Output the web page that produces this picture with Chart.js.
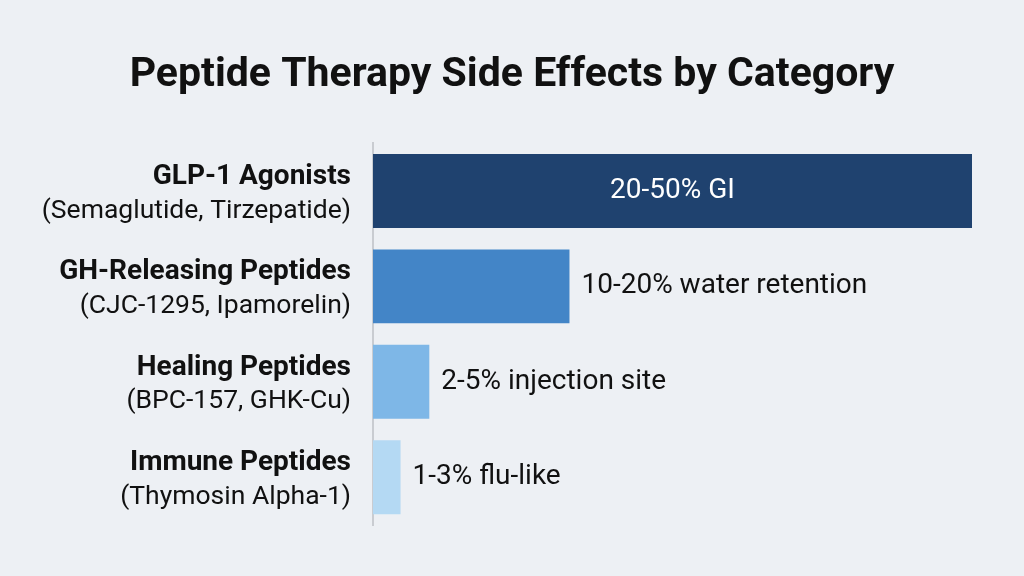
<!DOCTYPE html>
<html>
<head>
<meta charset="utf-8">
<script src="https://cdn.jsdelivr.net/npm/chart.js@4"></script>
<style>
  html, body { margin: 0; padding: 0; background: #edf0f4; }
  #wrap { width: 1024px; height: 576px; }
</style>
</head>
<body>
<div id="wrap"><canvas id="sideChart" width="1024" height="576"></canvas></div>
<script>
// Chart data
const categories = ["GLP-1 Agonists", "GH-Releasing Peptides", "Healing Peptides", "Immune Peptides"];
const examples = ["(Semaglutide, Tirzepatide)", "(CJC-1295, Ipamorelin)", "(BPC-157, GHK-Cu)", "(Thymosin Alpha-1)"];
const barValues = [50, 16.4, 4.7, 2.3];
const valueLabels = ["20-50% GI", "10-20% water retention", "2-5% injection site", "1-3% flu-like"];
const barColors = ["#1f426f", "#4385c7", "#7eb7e7", "#b4d9f3"];

const FONT = "Roboto, 'Open Sans', sans-serif";

// Two-line category labels (bold name + regular examples)
const categoryLabels = {
  id: "categoryLabels",
  afterDraw(chart) {
    const c = chart.ctx;
    const yScale = chart.scales.y;
    const right = chart.chartArea.left - 22;
    c.save();
    c.textAlign = "right";
    c.textBaseline = "middle";
    c.fillStyle = "#111";
    categories.forEach((name, i) => {
      const y = yScale.getPixelForValue(i);
      c.font = "bold 28px " + FONT;
      c.fillText(name, right, y - 14);
      c.font = "26.5px " + FONT;
      c.fillText(examples[i], right, y + 20);
    });
    c.restore();
  }
};

// Value labels, inside the first bar, after the bar end for the rest
const valueText = {
  id: "valueText",
  afterDatasetsDraw(chart) {
    const c = chart.ctx;
    const meta = chart.getDatasetMeta(0);
    c.save();
    c.font = "28px " + FONT;
    c.textBaseline = "middle";
    meta.data.forEach((bar, i) => {
      if (i === 0) {
        c.fillStyle = "#ffffff";
        c.textAlign = "center";
        c.fillText(valueLabels[i], (bar.base + bar.x) / 2, bar.y);
      } else {
        c.fillStyle = "#111";
        c.textAlign = "left";
        c.fillText(valueLabels[i], bar.x + 12, bar.y);
      }
    });
    c.restore();
  }
};

const ctx = document.getElementById("sideChart").getContext("2d");

let sideChart = new Chart(ctx, {
  type: "bar",
  data: {
    labels: categories,
    datasets: [{
      data: barValues,
      backgroundColor: barColors,
      categoryPercentage: 1,
      barPercentage: 0.775,
      borderWidth: 0
    }]
  },
  options: {
    indexAxis: "y",
    responsive: false,
    animation: false,
    layout: {
      padding: { left: 0, right: 0, top: 0, bottom: 51 }
    },
    scales: {
      x: {
        display: false,
        min: 0,
        max: 50
      },
      y: {
        display: true,
        afterFit: (scale) => { scale.width = 373; },
        ticks: { display: false },
        grid: { display: false, drawTicks: false },
        border: { display: true, color: "#c9ccd1", width: 2 }
      },
      // empty right margin so the title stays centred on the page
      yRight: {
        type: "category",
        position: "right",
        display: true,
        afterFit: (scale) => { scale.width = 52; },
        ticks: { display: false },
        grid: { display: false, drawTicks: false },
        border: { display: false }
      }
    },
    plugins: {
      legend: { display: false },
      tooltip: { enabled: false },
      title: {
        display: true,
        text: "Peptide Therapy Side Effects by Category",
        color: "#111",
        font: { family: FONT, size: 41, weight: "bold" },
        padding: { top: 51, bottom: 43 }
      }
    }
  },
  plugins: [categoryLabels, valueText]
});
</script>
</body>
</html>
